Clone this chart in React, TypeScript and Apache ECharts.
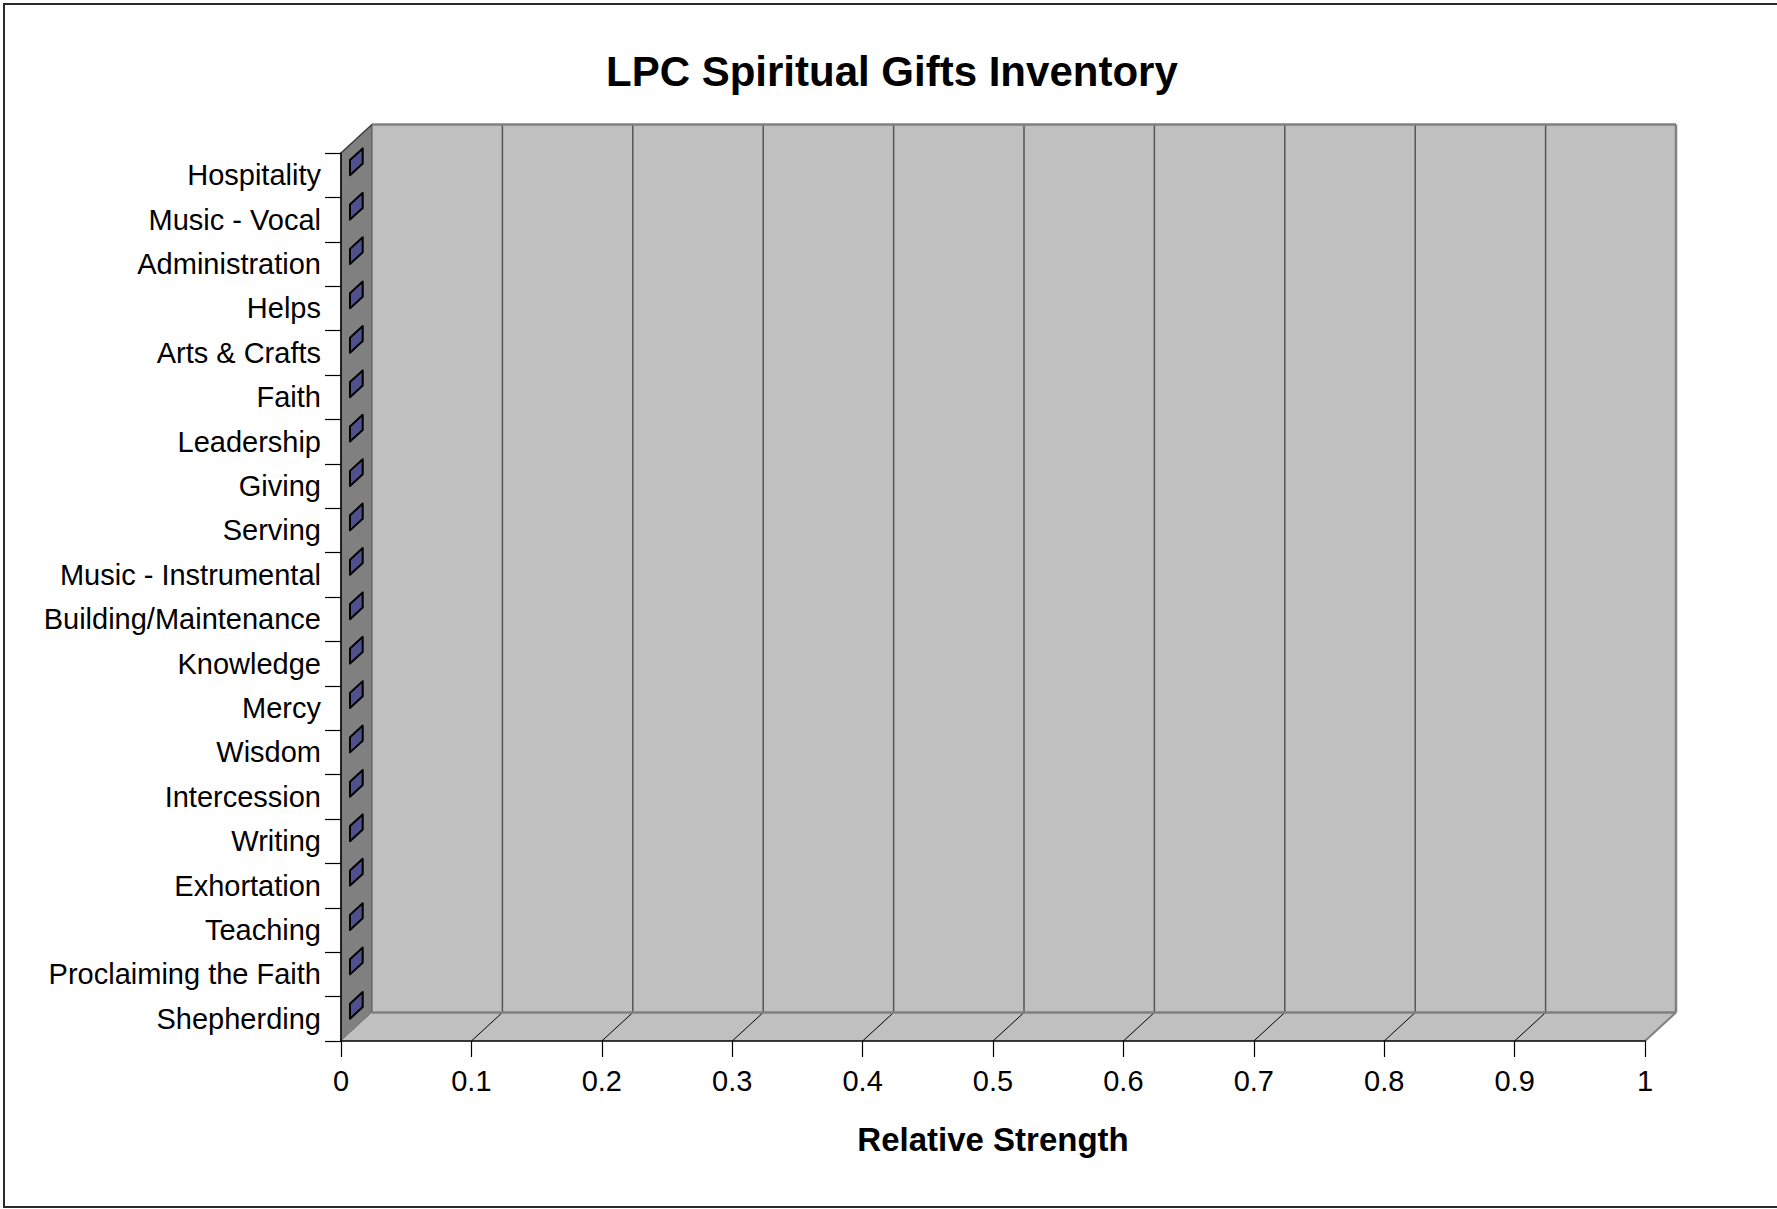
import React, { useEffect, useRef } from "react";
import * as echarts from "echarts";

const categories = [
  "Hospitality",
  "Music - Vocal",
  "Administration",
  "Helps",
  "Arts & Crafts",
  "Faith",
  "Leadership",
  "Giving",
  "Serving",
  "Music - Instrumental",
  "Building/Maintenance",
  "Knowledge",
  "Mercy",
  "Wisdom",
  "Intercession",
  "Writing",
  "Exhortation",
  "Teaching",
  "Proclaiming the Faith",
  "Shepherding",
];

const strengths = [0, 0, 0, 0, 0, 0, 0, 0, 0, 0, 0, 0, 0, 0, 0, 0, 0, 0, 0, 0];

const xTicks = [0, 0.1, 0.2, 0.3, 0.4, 0.5, 0.6, 0.7, 0.8, 0.9, 1];

const TITLE = "LPC Spiritual Gifts Inventory";
const X_NAME = "Relative Strength";

const FONT = "'Liberation Sans', Arial, sans-serif";
const DX = 31;
const DY = -28.5;

export default function App() {
  const ref = useRef<HTMLDivElement>(null);

  useEffect(() => {
    if (!ref.current) return;
    const chart = echarts.init(ref.current, undefined, { renderer: "svg" });

    const frameRender = (params: any, api: any) => {
      const cs = params.coordSys;
      const L = cs.x;
      const T = cs.y;
      const R = cs.x + cs.width;
      const B = cs.y + cs.height;
      const children: any[] = [];
      children.push({
        type: "rect",
        shape: { x: L + DX, y: T + DY, width: R - L, height: B - T },
        style: { fill: "#c0c0c0" },
      });
      children.push({
        type: "polygon",
        shape: { points: [[L, T], [L + DX, T + DY], [L + DX, B + DY], [L, B]] },
        style: { fill: "#808080", stroke: "#505050", lineWidth: 1 },
      });
      children.push({
        type: "polygon",
        shape: { points: [[L, B], [R, B], [R + DX, B + DY], [L + DX, B + DY]] },
        style: { fill: "#c0c0c0" },
      });
      const inner = xTicks.slice(1, -1);
      inner.forEach((t) => {
        const x = api.coord([t, 0])[0];
        children.push({
          type: "line",
          shape: { x1: x + DX, y1: T + DY, x2: x + DX, y2: B + DY },
          style: { stroke: "#555555", lineWidth: 1.5 },
        });
        children.push({
          type: "line",
          shape: { x1: x, y1: B, x2: x + DX, y2: B + DY },
          style: { stroke: "#000000", lineWidth: 1 },
        });
      });
      children.push({
        type: "line",
        shape: { x1: L + DX, y1: T + DY, x2: R + DX, y2: T + DY },
        style: { stroke: "#808080", lineWidth: 2.5 },
      });
      children.push({
        type: "line",
        shape: { x1: R + DX, y1: T + DY, x2: R + DX, y2: B + DY },
        style: { stroke: "#808080", lineWidth: 2.5 },
      });
      children.push({
        type: "line",
        shape: { x1: L + DX, y1: B + DY, x2: R + DX, y2: B + DY },
        style: { stroke: "#808080", lineWidth: 2.5 },
      });
      children.push({
        type: "line",
        shape: { x1: R, y1: B, x2: R + DX, y2: B + DY },
        style: { stroke: "#808080", lineWidth: 2 },
      });
      children.push({
        type: "line",
        shape: { x1: L, y1: T, x2: L + DX, y2: T + DY },
        style: { stroke: "#404040", lineWidth: 1.5 },
      });
      return { type: "group", children };
    };

    const barRender = (params: any, api: any) => {
      const v = api.value(0);
      const idx = api.value(1);
      const [x1, yc] = api.coord([v, idx]);
      const x0 = api.coord([0, idx])[0];
      const band = api.size([0, 1])[1];
      const h = band * 0.34;
      const yt = yc - h / 2 + 0.7;
      const yb = yt + h;
      const d0 = 0.29;
      const d1 = 0.7;
      const ax = DX * d0, ay = DY * d0, bx = DX * d1, by = DY * d1;
      const stroke = { stroke: "#000000", lineWidth: 2, lineJoin: "round" };
      const children: any[] = [];
      if (x1 - x0 > 0.5) {
        children.push({
          type: "polygon",
          shape: { points: [[x0 + ax, yt + ay], [x1 + ax, yt + ay], [x1 + ax, yb + ay], [x0 + ax, yb + ay]] },
          style: { fill: "#9999ff", ...stroke },
        });
        children.push({
          type: "polygon",
          shape: { points: [[x0 + ax, yt + ay], [x1 + ax, yt + ay], [x1 + bx, yt + by], [x0 + bx, yt + by]] },
          style: { fill: "#7373bf", ...stroke },
        });
      }
      children.push({
        type: "polygon",
        shape: { points: [[x1 + ax, yt + ay], [x1 + bx, yt + by], [x1 + bx, yb + by], [x1 + ax, yb + ay]] },
        style: { fill: "#50508c", ...stroke },
      });
      return { type: "group", children };
    };

    chart.setOption({
      animation: false,
      backgroundColor: "#ffffff",
      title: {
        text: TITLE,
        left: 606,
        top: 50,
        padding: 0,
        textStyle: { fontFamily: FONT, fontWeight: "bold", fontSize: 42, color: "#000000" },
      },
      grid: { left: 341, top: 153, width: 1304, height: 888, containLabel: false },
      xAxis: {
        type: "value",
        min: 0,
        max: 1,
        interval: 0.1,
        z: 10,
        name: X_NAME,
        nameLocation: "middle",
        nameGap: 82,
        nameTextStyle: { fontFamily: FONT, fontWeight: "bold", fontSize: 33, color: "#000000" },
        axisLine: { show: true, lineStyle: { color: "#000000", width: 1.5 } },
        axisTick: { show: true, length: 16, lineStyle: { color: "#000000", width: 1.2 } },
        axisLabel: { margin: 25, fontFamily: FONT, fontSize: 29, color: "#000000" },
        splitLine: { show: false },
      },
      yAxis: {
        type: "category",
        inverse: true,
        data: categories,
        z: 10,
        axisLine: { show: true, lineStyle: { color: "#000000", width: 1.5 } },
        axisTick: { show: true, length: 16, alignWithLabel: false, lineStyle: { color: "#000000", width: 1.2 } },
        axisLabel: { margin: 20, fontFamily: FONT, fontSize: 29, color: "#000000", interval: 0 },
        splitLine: { show: false },
      },
      graphic: [
        {
          type: "rect",
          silent: true,
          z: 0,
          shape: { x: 4, y: 4, width: 1800, height: 1203 },
          style: { fill: "none", stroke: "#2a2a2a", lineWidth: 2 },
        },
      ],
      series: [
        {
          type: "custom",
          name: "frame",
          silent: true,
          clip: false,
          z: 1,
          data: [[0, 0]],
          renderItem: frameRender,
        },
        {
          type: "custom",
          name: "Relative Strength",
          clip: false,
          z: 3,
          data: strengths.map((v, i) => [v, i]),
          encode: { x: 0, y: 1 },
          renderItem: barRender,
        },
      ],
    });

    return () => chart.dispose();
  }, []);

  return (
    <div
      ref={ref}
      style={{ position: "fixed", left: 0, top: 0, width: 1777, height: 1209 }}
    />
  );
}
